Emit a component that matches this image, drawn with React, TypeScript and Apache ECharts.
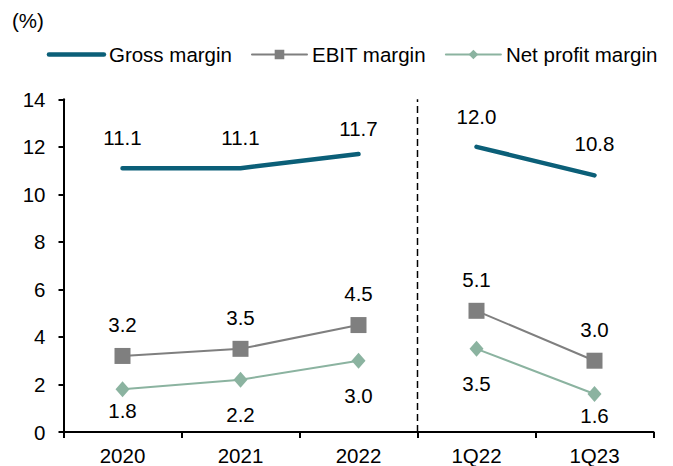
import React, { useEffect, useRef } from "react";
import * as echarts from "echarts";

const annualCats = ["2020", "2021", "2022"];
const quarterCats = ["1Q22", "1Q23"];
const yTicks = { min: 0, max: 14, step: 2 };

const grossAnnual = [11.1, 11.1, 11.7];
const grossQuarter = [12.0, 10.8];
const ebitAnnual = [3.2, 3.5, 4.5];
const ebitQuarter = [5.1, 3.0];
const netAnnual = [1.8, 2.2, 3.0];
const netQuarter = [3.5, 1.6];

const seriesNames = ["Gross margin", "EBIT margin", "Net profit margin"];

// label distances (style only), per category
const grossLabelDist = [20, 20, 15, 20, 21];
const ebitLabelDist = [13, 13, 13, 13, 13];
const netLabelDist = [2.5, 16, 16, 16, 3];

const FONT = "'Liberation Sans', Arial, sans-serif";
const FS = 20.5;

const COLORS = {
  gross: "#0B5F78",
  ebit: "#7F7F7F",
  net: "#8BB3A0",
};

export default function App() {
  const ref = useRef<HTMLDivElement>(null);

  useEffect(() => {
    document.body.style.margin = "0";
    if (!ref.current) return;
    const chart = echarts.init(ref.current, undefined, { renderer: "svg" });

    const cats = [...annualCats, ...quarterCats];
    const nA = annualCats.length;
    const nQ = quarterCats.length;
    const padA = (arr: number[]) => [...arr, ...Array(nQ).fill(null)];
    const padQ = (arr: number[]) => [...Array(nA).fill(null), ...arr];

    const withLabels = (vals: (number | null)[], dists: number[], pos: string) =>
      vals.map((v, i) =>
        v == null
          ? null
          : { value: v, label: { position: pos, distance: dists[i] } }
      );

    const labelBase = {
      show: true,
      color: "#000",
      fontSize: FS,
      fontFamily: FONT,
      formatter: (p: any) => Number(p.value).toFixed(1),
    };

    const makeSeries = (
      name: string,
      vals: (number | null)[],
      dists: number[],
      pos: string,
      color: string,
      width: number,
      symbol: string,
      symbolSize: any
    ) => ({
      name,
      type: "line",
      data: withLabels(vals, dists, pos),
      connectNulls: false,
      symbol,
      symbolSize,
      showSymbol: true,
      itemStyle: { color },
      lineStyle: { color, width, cap: "round" },
      label: { ...labelBase, position: pos },
      emphasis: { disabled: true },
      z: 3,
    });

    chart.setOption({
      animation: false,
      title: {
        text: "(%)",
        left: 12,
        top: 10,
        padding: 0,
        textStyle: { fontSize: FS, fontWeight: "normal", color: "#000", fontFamily: FONT },
      },
      legend: {
        data: [
          { name: seriesNames[0], itemStyle: { opacity: 0 } },
          { name: seriesNames[1] },
          { name: seriesNames[2] },
        ],
        left: 46.7,
        top: 44,
        padding: 0,
        itemWidth: 55,
        itemHeight: 12,
        itemGap: 19,
        lineStyle: { width: "inherit" },
        textStyle: { fontSize: FS, color: "#000", fontFamily: FONT },
        selectedMode: false,
      },
      grid: { left: 63.5, right: 19.5, top: 99.3, bottom: 33.5, containLabel: false },
      xAxis: [
        {
          type: "category",
          data: cats,
          boundaryGap: true,
          axisLine: { lineStyle: { color: "#000", width: 2 } },
          axisTick: { show: true, length: 6, lineStyle: { color: "#000", width: 2 } },
          axisLabel: { color: "#000", fontSize: FS, fontFamily: FONT, margin: 13 },
          splitLine: { show: false },
        },
        {
          type: "value",
          min: 0,
          max: cats.length,
          show: false,
        },
      ],
      yAxis: {
        type: "value",
        min: yTicks.min,
        max: yTicks.max,
        interval: yTicks.step,
        axisLine: { show: true, lineStyle: { color: "#000", width: 2 } },
        axisTick: { show: true, length: 5, lineStyle: { color: "#000", width: 2 } },
        axisLabel: { color: "#000", fontSize: FS, fontFamily: FONT, margin: 18 },
        splitLine: { show: false },
      },
      series: [
        makeSeries(seriesNames[0], padA(grossAnnual), grossLabelDist, "top", COLORS.gross, 4.5, "circle", 0),
        makeSeries(seriesNames[0], padQ(grossQuarter), grossLabelDist, "top", COLORS.gross, 4.5, "circle", 0),
        makeSeries(seriesNames[1], padA(ebitAnnual), ebitLabelDist, "top", COLORS.ebit, 2, "rect", 16),
        makeSeries(seriesNames[1], padQ(ebitQuarter), ebitLabelDist, "top", COLORS.ebit, 2, "rect", 16),
        makeSeries(seriesNames[2], padA(netAnnual), netLabelDist, "bottom", COLORS.net, 2, "diamond", [14, 16]),
        makeSeries(seriesNames[2], padQ(netQuarter), netLabelDist, "bottom", COLORS.net, 2, "diamond", [14, 16]),
        {
          name: "separator",
          type: "line",
          xAxisIndex: 1,
          data: [
            [nA, yTicks.min],
            [nA, yTicks.max],
          ],
          symbol: "none",
          silent: true,
          lineStyle: { color: "#000", width: 1.5, type: [7, 4] },
          z: 1,
        },
      ],
    });

    return () => chart.dispose();
  }, []);

  return <div ref={ref} style={{ width: 673, height: 466 }} />;
}
